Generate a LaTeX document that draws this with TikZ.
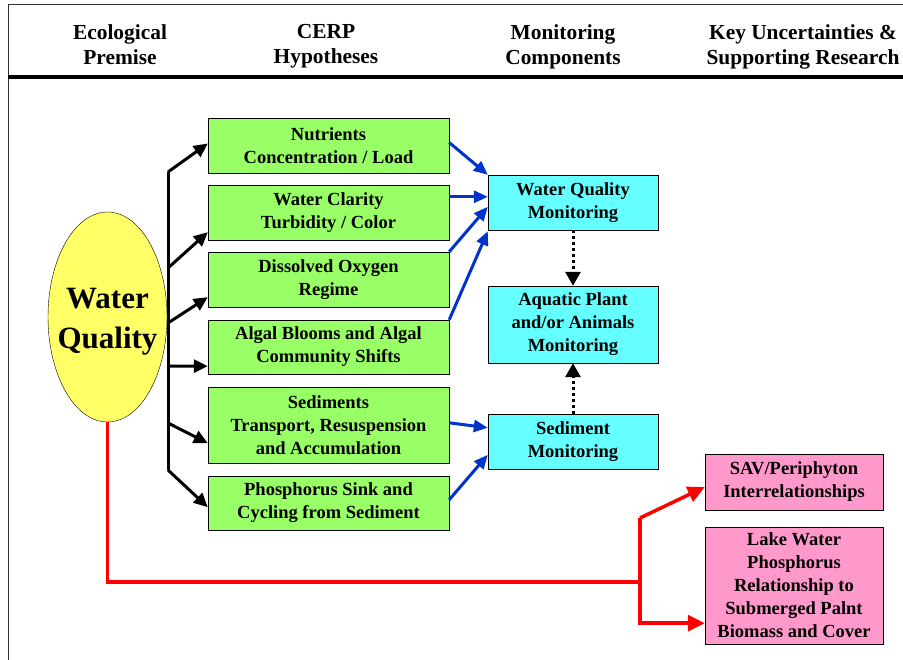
\documentclass[tikz,border=0pt]{standalone}
\usepackage{fontspec}
\setmainfont{Liberation Serif}
\usepackage{xcolor}
\usetikzlibrary{arrows.meta}
\usetikzlibrary{shapes.geometric}
\definecolor{hypgreen}{HTML}{99FF66}
\definecolor{moncyan}{HTML}{66FFFF}
\definecolor{respink}{HTML}{FF99CC}
\definecolor{wqyellow}{HTML}{FFFF66}
\definecolor{arrblue}{HTML}{0033CC}

\begin{document}
\begin{tikzpicture}[x=1pt,y=-1pt,
hdr/.style={anchor=north,inner sep=0pt,align=center,font=\bfseries\fontsize{21.4}{25}\selectfont},
hyp/.style={draw=black,fill=hypgreen,minimum width=241pt,inner sep=0pt,align=center,font=\bfseries\fontsize{18.5}{23}\selectfont},
mon/.style={draw=black,fill=moncyan,minimum width=170pt,inner sep=0pt,align=center,font=\bfseries\fontsize{18.5}{23}\selectfont},
res/.style={draw=black,fill=respink,minimum width=178pt,inner sep=0pt,align=center,font=\bfseries\fontsize{18.5}{23}\selectfont},
blk/.style={line width=3pt,-{Triangle[length=14pt,width=13pt]}},
blu/.style={arrblue,line width=3pt,-{Triangle[length=14pt,width=12pt]}},
dot/.style={line width=3pt,dash pattern=on 3pt off 3pt,-{Triangle[length=14pt,width=15pt]}},
rd/.style={red,line width=3.5pt}]
\useasboundingbox (0,0) rectangle (903,660);
\draw[gray!40!black,line width=1pt] (8,660) -- (8,5) -- (903,5);
\draw[line width=4pt] (8,77) -- (903,77);

\node[hdr] (h1) at (120,24) {Ecological\\Premise};
\node[hdr] (h2) at (326,24) {CERP\\Hypotheses};
\node[hdr] (h3) at (563,24) {Monitoring\\Components};
\node[hdr] (h4) at (803,24) {Key Uncertainties \&\\Supporting Research};

\node[ellipse,draw=black,fill=wqyellow,minimum width=119pt,minimum height=210pt,inner sep=0pt] (wq) at (107.5,317) {};
\node[align=center,inner sep=0pt,font=\bfseries\fontsize{31}{40}\selectfont] (wqtext) at (107.5,322) {Water\\Quality};

\node[hyp,minimum height=55pt] (nut) at (328.5,145.5) {Nutrients\\Concentration / Load};
\node[hyp,minimum height=55pt] (clar) at (328.5,212.5) {Water Clarity\\Turbidity / Color};
\node[hyp,minimum height=55pt] (diss) at (328.5,279.5) {Dissolved Oxygen\\Regime};
\node[hyp,minimum height=54pt] (alg) at (328.5,347) {Algal Blooms and Algal\\Community Shifts};
\node[hyp,minimum height=76pt] (sed) at (328.5,425) {Sediments\\Transport, Resuspension\\and Accumulation};
\node[hyp,minimum height=54pt] (phos) at (328.5,503) {Phosphorus Sink and\\Cycling from Sediment};

\node[mon,minimum height=55pt] (wqm) at (573,202.5) {Water Quality\\Monitoring};
\node[mon,minimum height=77pt] (aqm) at (573,324.5) {Aquatic Plant\\and/or Animals\\Monitoring};
\node[mon,minimum height=55pt] (sedm) at (573,441.5) {Sediment\\Monitoring};

\node[res,minimum height=56pt] (sav) at (794,482) {SAV/Periphyton\\Interrelationships};
\node[res,minimum height=117pt] (lake) at (794,585.5) {Lake Water\\Phosphorus\\Relationship to\\Submerged Palnt\\Biomass and Cover};

\coordinate (t1) at (168,172);
\coordinate (t2) at (168,268);
\coordinate (t3) at (168,323);
\coordinate (t4) at (168,366);
\coordinate (t5) at (168,423);
\coordinate (t6) at (168,470);
\draw[line width=3pt] (t1) -- (t6);
\draw[blk] (t1) -- ([yshift=2pt]nut.west);
\draw[blk] (t2) -- ([yshift=8pt]clar.south west);
\draw[blk] (t3) -- ([yshift=10pt]diss.south west);
\draw[blk] (t4) -- ([yshift=8pt]alg.south west);
\draw[blk] (t5) -- ([yshift=20pt]sed.south west);
\draw[blk] (t6) -- ([yshift=23pt]phos.south west);

\draw[blu] ([yshift=3pt]nut.east) -- (wqm.north west);
\draw[blu] ([yshift=-12pt]clar.north east) -- ([yshift=-22pt]wqm.north west);
\draw[blu] (diss.north east) -- ([yshift=-32pt]wqm.north west);
\draw[blu] (alg.north east) -- ([yshift=-1pt]wqm.south west);
\draw[blu] ([yshift=-36pt]sed.north east) -- ([yshift=-14pt]sedm.north west);
\draw[blu] ([yshift=-24pt]phos.north east) -- ([yshift=-41pt]sedm.north west);

\draw[dot] (wqm.south) -- (aqm.north);
\draw[dot] (sedm.north) -- (aqm.south);

\coordinate (r1) at (640,582);
\coordinate (r2) at (640,518);
\draw[rd] (wq.south) |- (r1) -- (r2);
\draw[rd,-{Triangle[length=17pt,width=16pt]}] (r2) -- ([yshift=-5pt]sav.west);
\draw[rd,-{Triangle[length=17pt,width=16pt]}] (r1) |- ([yshift=21pt]lake.south west);
\end{tikzpicture}
\end{document}
